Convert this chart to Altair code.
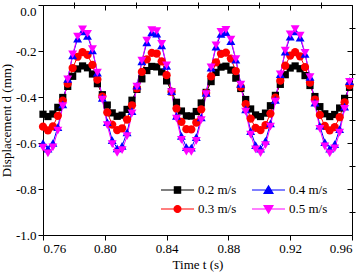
import altair as alt
import pandas as pd

time_s = [0.7600, 0.7632, 0.7664, 0.7696, 0.7728, 0.7760, 0.7792, 0.7824, 0.7856, 0.7888,
          0.7920, 0.7952, 0.7984, 0.8016, 0.8048, 0.8080, 0.8112, 0.8144, 0.8176, 0.8208,
          0.8240, 0.8272, 0.8304, 0.8336, 0.8368, 0.8400, 0.8432, 0.8464, 0.8496, 0.8528,
          0.8560, 0.8592, 0.8624, 0.8656, 0.8688, 0.8720, 0.8752, 0.8784, 0.8816, 0.8848,
          0.8880, 0.8912, 0.8944, 0.8976, 0.9008, 0.9040, 0.9072, 0.9104, 0.9136, 0.9168,
          0.9200, 0.9232, 0.9264, 0.9296, 0.9328, 0.9360, 0.9392, 0.9424, 0.9456, 0.9488,
          0.9520, 0.9552, 0.9584]

d_02 = [-0.475, -0.485, -0.474, -0.445, -0.402, -0.354, -0.310, -0.278, -0.265, -0.273,
        -0.300, -0.342, -0.390, -0.435, -0.469, -0.484, -0.479, -0.454, -0.414, -0.367,
        -0.321, -0.285, -0.267, -0.269, -0.291, -0.330, -0.377, -0.423, -0.461, -0.482,
        -0.483, -0.463, -0.426, -0.380, -0.333, -0.293, -0.270, -0.266, -0.283, -0.318,
        -0.363, -0.411, -0.452, -0.478, -0.485, -0.470, -0.438, -0.393, -0.345, -0.303,
        -0.274, -0.265, -0.277, -0.307, -0.350, -0.398, -0.442, -0.473, -0.485, -0.476,
        -0.448, -0.406, -0.358]

d_03 = [-0.529, -0.545, -0.528, -0.482, -0.416, -0.342, -0.274, -0.225, -0.205, -0.217,
        -0.260, -0.324, -0.398, -0.467, -0.520, -0.544, -0.536, -0.498, -0.436, -0.362,
        -0.291, -0.236, -0.208, -0.211, -0.245, -0.305, -0.377, -0.450, -0.508, -0.540,
        -0.541, -0.511, -0.454, -0.383, -0.310, -0.249, -0.212, -0.207, -0.233, -0.287,
        -0.357, -0.431, -0.494, -0.534, -0.544, -0.522, -0.472, -0.403, -0.329, -0.264,
        -0.220, -0.205, -0.223, -0.270, -0.337, -0.411, -0.478, -0.526, -0.545, -0.531,
        -0.488, -0.423, -0.349]

d_04 = [-0.601, -0.625, -0.600, -0.531, -0.432, -0.321, -0.219, -0.146, -0.115, -0.134,
        -0.197, -0.294, -0.404, -0.509, -0.587, -0.623, -0.612, -0.554, -0.461, -0.351,
        -0.245, -0.162, -0.119, -0.124, -0.176, -0.265, -0.374, -0.482, -0.569, -0.618,
        -0.620, -0.574, -0.489, -0.382, -0.272, -0.181, -0.126, -0.118, -0.157, -0.237,
        -0.343, -0.454, -0.548, -0.609, -0.624, -0.591, -0.515, -0.412, -0.301, -0.203,
        -0.137, -0.115, -0.142, -0.212, -0.313, -0.424, -0.525, -0.596, -0.625, -0.605,
        -0.540, -0.442, -0.331]

d_05 = [-0.620, -0.645, -0.619, -0.546, -0.440, -0.323, -0.215, -0.137, -0.106, -0.125,
        -0.192, -0.294, -0.411, -0.522, -0.605, -0.643, -0.631, -0.570, -0.471, -0.355,
        -0.242, -0.155, -0.109, -0.114, -0.169, -0.263, -0.379, -0.494, -0.586, -0.637,
        -0.639, -0.591, -0.501, -0.387, -0.271, -0.175, -0.117, -0.108, -0.150, -0.235,
        -0.346, -0.464, -0.564, -0.628, -0.644, -0.609, -0.529, -0.420, -0.302, -0.198,
        -0.128, -0.105, -0.133, -0.208, -0.314, -0.432, -0.539, -0.615, -0.645, -0.623,
        -0.555, -0.452, -0.334]

series_names = ["0.2 m/s", "0.3 m/s", "0.4 m/s", "0.5 m/s"]
series_colors = ["#000000", "#FF0000", "#0000FF", "#FF00FF"]
series_shapes = ["square", "circle", "triangle-up", "triangle-down"]
series_sizes = [52, 68, 80, 80]

# same colour mapping, listed in reverse for the line/point colour scale
line_domain = ["0.5 m/s", "0.4 m/s", "0.3 m/s", "0.2 m/s"]
line_colors = ["#FF00FF", "#0000FF", "#FF0000", "#000000"]

legend_shapes = [
    "M-1,0L1,0M-0.19,-0.19L0.19,-0.19L0.19,0.19L-0.19,0.19Z",
    "M-1,0L1,0M-0.21,0A0.21,0.21,0,1,1,0.21,0A0.21,0.21,0,1,1,-0.21,0Z",
    "M-1,0L1,0M0,-0.25L0.27,0.2L-0.27,0.2Z",
    "M-1,0L1,0M0,0.25L0.27,-0.2L-0.27,-0.2Z",
]

x_major = [0.76, 0.80, 0.84, 0.88, 0.92, 0.96]
x_minor = [0.78, 0.82, 0.86, 0.90, 0.94]
y_major = [0.0, -0.2, -0.4, -0.6, -0.8, -1.0]
y_minor = [-0.1, -0.3, -0.5, -0.7, -0.9]

rows = []
for name, vals in zip(series_names, [d_02, d_03, d_04, d_05]):
    for t, v in zip(time_s, vals):
        rows.append({"t": t, "d": v, "series": name})
df = pd.DataFrame(rows)

FONT = "Liberation Serif"
W, H = 309, 230

xs = alt.Scale(domain=[0.76, 0.96], nice=False, zero=False)
ys = alt.Scale(domain=[-1.0, 0.0], nice=False, zero=False)
cs = alt.Scale(domain=line_domain, range=line_colors)

ylabel = "replace(format(datum.value, '.1f'), '\u2212', '-')"
ybaseline = {"condition": {"test": "datum.value == 0", "value": "top"}, "value": "middle"}

base = alt.Chart(df)

lines = base.mark_line(strokeWidth=1).encode(
    x=alt.X("t:Q", scale=xs, axis=alt.Axis(values=x_major, format=".2f", title="Time t (s)",
                                           tickSize=5, labelPadding=2, titlePadding=3)),
    y=alt.Y("d:Q", scale=ys, axis=alt.Axis(values=y_major, labelExpr=ylabel,
                                           labelBaseline=ybaseline,
                                           title="Displacement d (mm)", tickSize=5,
                                           labelPadding=2, titlePadding=2)),
    color=alt.Color("series:N", scale=cs, legend=None),
    detail="series:N",
)

point_layers = []
for i, (name, shp, sz) in enumerate(zip(series_names, series_shapes, series_sizes)):
    if i == 0:
        xa = alt.Axis(values=x_minor, labels=False, title=None, tickSize=3)
        ya = alt.Axis(values=y_minor, labels=False, title=None, tickSize=3)
    else:
        xa = None
        ya = None
    point_layers.append(
        base.transform_filter(alt.datum.series == name)
        .mark_point(filled=True, opacity=1, shape=shp, size=sz)
        .encode(
            x=alt.X("t:Q", scale=xs, axis=xa),
            y=alt.Y("d:Q", scale=ys, axis=ya),
            color=alt.Color("series:N", scale=cs, legend=None),
        )
    )

leg = alt.Legend(orient="none", legendX=117, legendY=178, columns=2, columnPadding=14,
                 rowPadding=5, clipHeight=14, symbolSize=1089, symbolStrokeWidth=1.2,
                 symbolOpacity=1,
                 labelFont=FONT, labelFontSize=13, labelColor="#000000", labelOffset=3,
                 padding=0, title=None)

legend_layer = base.transform_filter("false").mark_point(filled=True, opacity=1).encode(
    x=alt.X("t:Q", scale=xs, axis=alt.Axis(values=x_major, labels=False, title=None,
                                           tickSize=5, orient="bottom", offset=-H)),
    y=alt.Y("d:Q", scale=ys, axis=alt.Axis(values=y_major, labels=False, title=None,
                                           tickSize=5, orient="left", offset=-W)),
    fill=alt.Fill("series:N", scale=alt.Scale(domain=series_names, range=series_colors), legend=leg),
    stroke=alt.Stroke("series:N", scale=alt.Scale(domain=series_names, range=series_colors), legend=leg),
    shape=alt.Shape("series:N", scale=alt.Scale(domain=series_names, range=legend_shapes), legend=leg),
)

minor_mirror = base.transform_filter("false").mark_point().encode(
    x=alt.X("t:Q", scale=xs, axis=alt.Axis(values=x_minor, labels=False, title=None,
                                           tickSize=3, orient="bottom", offset=-H)),
    y=alt.Y("d:Q", scale=ys, axis=alt.Axis(values=y_minor, labels=False, title=None,
                                           tickSize=3, orient="left", offset=-W)),
)

chart = alt.layer(lines, *point_layers, legend_layer, minor_mirror).resolve_axis(
    x="independent", y="independent"
).properties(
    width=W, height=H, autosize="none",
    padding={"left": 43, "top": 5, "right": 8, "bottom": 39},
    background="#FFFFFF",
).configure_view(
    stroke="#000000", strokeWidth=1
).configure_axis(
    domain=False, grid=False, labelFont=FONT, labelFontSize=13, labelColor="#000000",
    titleFont=FONT, titleFontSize=13, titleFontWeight="normal", titleColor="#000000",
    tickColor="#000000", tickWidth=1,
)

chart.save("out.html", embed_options={"renderer": "svg", "actions": False})
